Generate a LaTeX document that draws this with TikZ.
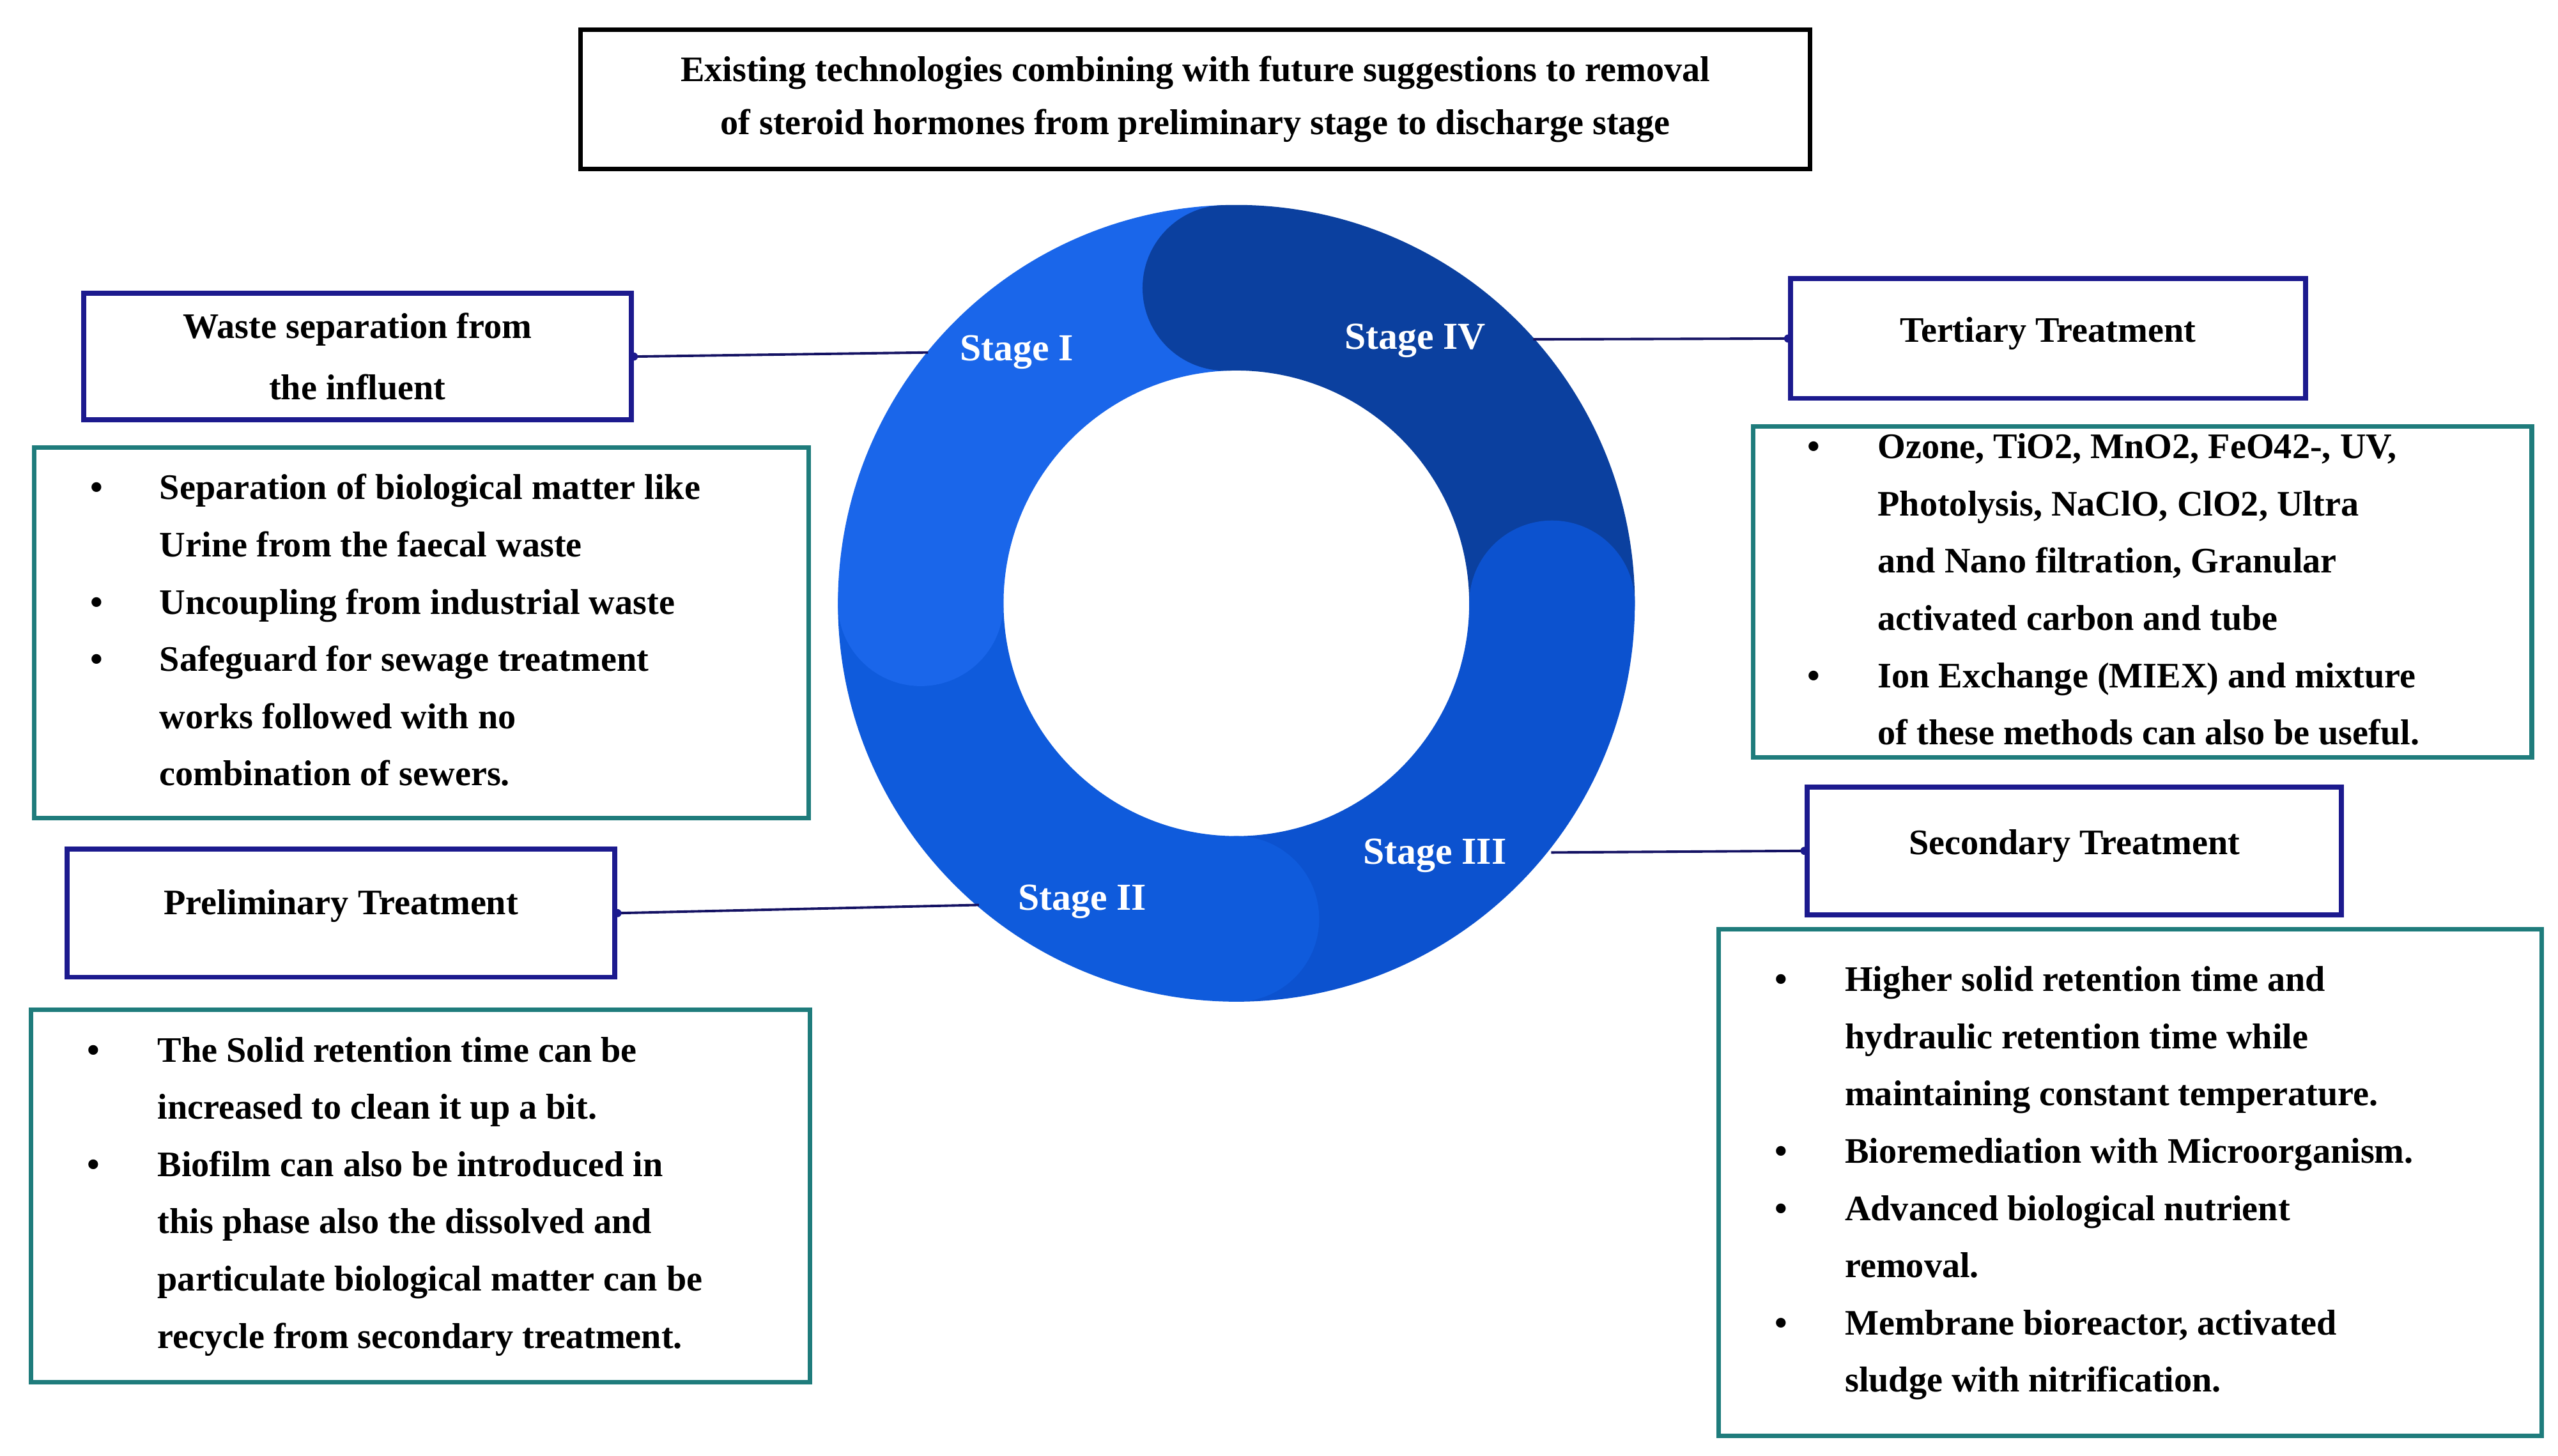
\documentclass[tikz,border=0pt]{standalone}
\usepackage{fontspec}
\setmainfont{Liberation Serif}
\usepackage{array}
\definecolor{navy}{HTML}{1C1A8E}
\definecolor{teal2}{HTML}{1F7C7C}
\definecolor{sI}{HTML}{1A66EA}
\definecolor{sII}{HTML}{0F5BDC}
\definecolor{sIII}{HTML}{0C52CF}
\definecolor{sIV}{HTML}{0B409F}
\newcommand{\uu}{0.02566cm}
\newcommand{\blist}[2]{\begin{tabular}{@{}p{#1}@{}l@{}}#2\end{tabular}}
\begin{document}
\begin{tikzpicture}[x=0.02566cm,y=-0.02566cm,
  every node/.style={font=\fontsize{16}{25.5}\selectfont\bfseries},
  hbox/.style={draw=navy,line width=2.2pt,inner sep=0pt,align=center},
  lbox/.style={draw=teal2,line width=2pt,inner sep=0pt},
  ttl/.style={draw=black,line width=2pt,inner sep=0pt,align=center},
  conn/.style={draw=navy!70!black,line width=1.1pt},
  stg/.style={text=white,font=\fontsize{17}{20}\selectfont\bfseries},
  lst/.style={anchor=north west,inner sep=0pt}]
\useasboundingbox (0,0) rectangle (1560,888);
% ring
\def\R{243}\def\r{142}\def\cx{754}\def\cy{368}
\newcommand{\seg}[3]{\fill[#1] (\cx,\cy) ++(#2:\R) arc[start angle=#2,end angle=#3,radius=\R] -- ++(#3:-101) arc[start angle=#3,end angle=#2,radius=\r] -- cycle;}
\seg{sIV}{-92}{0}
\seg{sIII}{0}{90}
\seg{sII}{90}{180}
\seg{sI}{180}{268}
\fill[sIV] (\cx,\cy) ++(-92:192.5) circle[radius=50.5];
\fill[sIII] (\cx,\cy) ++(0:192.5) circle[radius=50.5];
\fill[sII] (\cx,\cy) ++(90:192.5) circle[radius=50.5];
\fill[sI] (\cx,\cy) ++(180:192.5) circle[radius=50.5];
\node[stg] (s1) at (620,215) {Stage I};
\node[stg] (s4) at (863,208) {Stage IV};
\node[stg] (s3) at (875,522) {Stage III};
\node[stg] (s2) at (660,550) {Stage II};
% title
\node[ttl,minimum width=750*\uu,minimum height=85*\uu] (title) at (729,60.5)
  {Existing technologies combining with future suggestions to removal\\[-2pt]of steroid hormones from preliminary stage to discharge stage};
% heading boxes
\node[hbox,minimum width=334*\uu,minimum height=77*\uu] (waste) at (218,217.5) {Waste separation from\\[2pt]the influent};
\node[hbox,minimum width=334*\uu,minimum height=78*\uu,text depth=10pt] (prelim) at (208,557) {Preliminary Treatment};
\node[hbox,minimum width=314*\uu,minimum height=73*\uu,text depth=8pt] (tert) at (1249,206.5) {Tertiary Treatment};
\node[hbox,minimum width=326*\uu,minimum height=78*\uu,text depth=8pt] (sec) at (1265,519) {Secondary Treatment};
% list boxes
\node[lbox,minimum width=472*\uu,minimum height=226*\uu] (l1) at (257,386) {};
\node[lbox,minimum width=475*\uu,minimum height=227*\uu] (l2) at (256.5,729.5) {};
\node[lbox,minimum width=475*\uu,minimum height=202*\uu] (r1) at (1306.5,361) {};
\node[lbox,minimum width=502*\uu,minimum height=309*\uu] (r2) at (1299,721.5) {};
\node[lst] (t1) at (55,280) {\blist{1.08cm}{
\textbullet & Separation of biological matter like\\
 & Urine from the faecal waste\\
\textbullet & Uncoupling from industrial waste\\
\textbullet & Safeguard for sewage treatment\\
 & works followed with no\\
 & combination of sewers.}};
\node[lst] (t2) at (53,623) {\blist{1.1cm}{
\textbullet & The Solid retention time can be\\
 & increased to clean it up a bit.\\
\textbullet & Biofilm can also be introduced in\\
 & this phase also the dissolved and\\
 & particulate biological matter can be\\
 & recycle from secondary treatment.}};
\node[lst] (t3) at (1102,255) {\blist{1.1cm}{
\textbullet & Ozone, TiO2, MnO2, FeO42-, UV,\\
 & Photolysis, NaClO, ClO2, Ultra\\
 & and Nano filtration, Granular\\
 & activated carbon and tube\\
\textbullet & Ion Exchange (MIEX) and mixture\\
 & of these methods can also be useful.}};
\node[lst] (t4) at (1082,580) {\blist{1.1cm}{
\textbullet & Higher solid retention time and\\
 & hydraulic retention time while\\
 & maintaining constant temperature.\\
\textbullet & Bioremediation with Microorganism.\\
\textbullet & Advanced biological nutrient\\
 & removal.\\
\textbullet & Membrane bioreactor, activated\\
 & sludge with nitrification.}};
% connectors
\coordinate (c1) at (566,215);
\coordinate (c4) at (935,207);
\coordinate (c2) at (597,552);
\coordinate (c3) at (946,520);
\draw[conn] (waste.east) -- (c1);
\draw[conn] (c4) -- (tert.west);
\draw[conn] (prelim.east) -- (c2);
\draw[conn] (c3) -- (sec.west);
\fill[navy] (waste.east) circle[radius=2.5] (tert.west) circle[radius=2.5] (prelim.east) circle[radius=2.5] (sec.west) circle[radius=2.5];
\end{tikzpicture}
\end{document}
